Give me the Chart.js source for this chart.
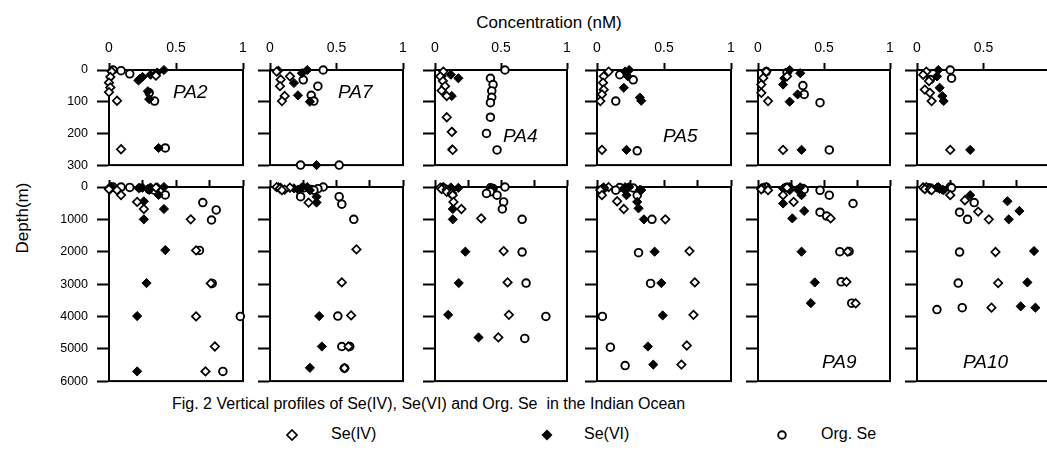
<!DOCTYPE html>
<html>
<head>
<meta charset="utf-8">
<script src="https://cdn.jsdelivr.net/npm/chart.js@4.4.0/dist/chart.umd.min.js"></script>
<style>
  html, body { margin:0; padding:0; background:#fff; }
  body { width:1047px; height:450px; position:relative; overflow:hidden; font-family:"Liberation Sans", Arial, sans-serif; color:#000; }
  canvas { position:absolute; }
  .txt { position:absolute; white-space:nowrap; line-height:1; }
  .pa { font-style:italic; font-size:19px; }
</style>
</head>
<body>
<div class="txt" id="title" style="font-size:17px; left:549px; top:14px; transform:translateX(-50%);">Concentration (nM)</div>
<div class="txt" id="ylab" style="font-size:17px; left:22px; top:218px; transform:translate(-50%,-50%) rotate(-90deg);">Depth(m)</div>
<div class="txt" id="caption" style="font-size:16px; left:172px; top:396px;">Fig. 2 Vertical profiles of Se(IV), Se(VI) and Org. Se&nbsp; in the Indian Ocean</div>
<div id="legend"></div>
<script>
// ---------------- DATA: [concentration nM, depth m] ----------------
const stations = ['PA2', 'PA7', 'PA4', 'PA5', 'PA9', 'PA10'];
const seriesNames = ['Se(IV)', 'Se(VI)', 'Org. Se'];
const concTicksTop = [0, 0.5, 1];
const concTicksBottom = [0, 0.25, 0.5, 0.75, 1];
const depthTicksTop = [0, 100, 200, 300];
const depthTicksBottom = [0, 1000, 2000, 3000, 4000, 5000, 6000];

const PA2_SeIV = [[0.02,5],[0.01,22],[0.0,40],[0.01,55],[0.0,70],[0.06,97],[0.35,18],[0.09,250],[0.21,460],[0.26,680],[0.61,1000],[0.65,1960],[0.76,2980],[0.65,4000],[0.79,4930],[0.72,5700]];
const PA2_SeVI = [[0.41,0],[0.36,8],[0.31,15],[0.25,22],[0.23,28],[0.22,33],[0.29,67],[0.30,92],[0.37,246],[0.26,440],[0.41,680],[0.26,1000],[0.42,1950],[0.28,2970],[0.21,3990],[0.21,5700]];
const PA2_Org  = [[0.03,0],[0.09,2],[0.155,12],[0.30,72],[0.34,98],[0.42,246],[0.70,480],[0.80,710],[0.765,1020],[0.675,1960],[0.77,2980],[0.98,4000],[0.85,5700]];

const PA7_SeIV = [[0.05,5],[0.15,20],[0.08,30],[0.075,51],[0.11,82],[0.09,98],[0.29,480],[0.65,1930],[0.54,2950],[0.61,3970],[0.59,4930],[0.56,5600]];
const PA7_SeVI = [[0.063,2],[0.28,0],[0.24,10],[0.18,41],[0.21,80],[0.30,100],[0.35,300],[0.35,480],[0.37,3990],[0.39,4930],[0.30,5590]];
const PA7_Org  = [[0.40,0],[0.25,31],[0.36,51],[0.31,80],[0.33,98],[0.23,300],[0.52,300],[0.54,530],[0.63,1000],[0.51,3990],[0.54,4930],[0.60,4930],[0.56,5600]];

const PA4_SeIV = [[0.063,5],[0.04,20],[0.06,35],[0.076,51],[0.05,65],[0.089,82],[0.089,149],[0.127,195],[0.134,252],[0.14,460],[0.20,680],[0.35,970],[0.52,1980],[0.55,2950],[0.56,3950],[0.48,4650]];
const PA4_SeVI = [[0.05,20],[0.12,15],[0.177,26],[0.127,82],[0.13,195],[0.13,250],[0.135,680],[0.135,1000],[0.23,2000],[0.18,2970],[0.10,3950],[0.33,4650]];
const PA4_Org  = [[0.53,0],[0.42,26],[0.44,46],[0.43,66],[0.43,86],[0.42,103],[0.42,149],[0.39,200],[0.47,252],[0.52,460],[0.51,680],[0.66,1000],[0.66,2010],[0.69,2970],[0.84,4000],[0.68,4680]];

const PA5_SeIV = [[0.087,5],[0.05,20],[0.045,40],[0.05,62],[0.037,77],[0.025,98],[0.037,252],[0.15,440],[0.20,680],[0.51,1000],[0.69,1980],[0.73,2950],[0.72,3950],[0.67,4900],[0.63,5490]];
const PA5_SeVI = [[0.24,0],[0.21,5],[0.23,20],[0.20,56],[0.32,87],[0.33,97],[0.22,252],[0.30,460],[0.31,660],[0.35,1000],[0.43,2000],[0.48,2970],[0.49,3970],[0.38,4930],[0.42,5490]];
const PA5_Org  = [[0.17,15],[0.27,31],[0.14,98],[0.30,255],[0.41,1000],[0.31,2030],[0.40,2980],[0.04,4000],[0.10,4950],[0.21,5520]];

const PA9_SeIV = [[0.063,5],[0.04,25],[0.025,46],[0.025,72],[0.076,98],[0.22,20],[0.19,252],[0.27,460],[0.55,970],[0.68,2000],[0.67,2930],[0.74,3600]];
const PA9_SeVI = [[0.24,0],[0.32,10],[0.20,26],[0.19,46],[0.30,77],[0.24,100],[0.33,252],[0.19,510],[0.35,740],[0.26,970],[0.33,2000],[0.43,2950],[0.40,3590]];
const PA9_Org  = [[0.063,5],[0.22,8],[0.34,49],[0.35,77],[0.47,103],[0.54,252],[0.72,510],[0.47,780],[0.52,900],[0.62,2000],[0.69,1990],[0.63,2930],[0.71,3590]];

const PA10_SeIV = [[0.07,5],[0.046,15],[0.09,35],[0.059,62],[0.097,72],[0.11,98],[0.25,252],[0.36,410],[0.46,760],[0.54,1000],[0.59,2010],[0.61,2970],[0.56,3730]];
const PA10_SeVI = [[0.16,0],[0.15,20],[0.17,56],[0.19,82],[0.20,98],[0.40,252],[0.68,440],[0.77,740],[0.69,1000],[0.88,1980],[0.83,2950],[0.78,3690],[0.89,3730]];
const PA10_Org  = [[0.25,0],[0.26,26],[0.10,30],[0.43,480],[0.32,780],[0.38,1000],[0.32,2010],[0.31,2970],[0.15,3790],[0.34,3730]];

const stationData = {
  PA2:  [PA2_SeIV, PA2_SeVI, PA2_Org],
  PA7:  [PA7_SeIV, PA7_SeVI, PA7_Org],
  PA4:  [PA4_SeIV, PA4_SeVI, PA4_Org],
  PA5:  [PA5_SeIV, PA5_SeVI, PA5_Org],
  PA9:  [PA9_SeIV, PA9_SeVI, PA9_Org],
  PA10: [PA10_SeIV, PA10_SeVI, PA10_Org]
};

// ---------------- LAYOUT / STYLE ----------------
const colLeft  = [109, 270, 435, 597, 758, 917];
const colWidth = [134, 133, 132, 134, 132, 133];
const rowTop   = [70, 187];
const rowHeight= [97, 196];
const labelPos = { // station label: [row, left, top]
  PA2: [0, 173, 82], PA7: [0, 338, 82], PA4: [0, 503, 126], PA5: [0, 663, 126], PA9: [1, 822, 352], PA10: [1, 963, 352]
};

const pointStyles = [
  { pointStyle:'rectRot', pointRadius:4.2, backgroundColor:'#fff', borderColor:'#000', borderWidth:1.7 },
  { pointStyle:'rectRot', pointRadius:4.6, backgroundColor:'#000', borderColor:'#000', borderWidth:1 },
  { pointStyle:'circle',  pointRadius:3.8, backgroundColor:'#fff', borderColor:'#000', borderWidth:1.9 }
];

const framePlugin = {
  id: 'frame',
  beforeDatasetsDraw(chart) {
    const a = chart.chartArea, ctx = chart.ctx;
    ctx.save();
    ctx.strokeStyle = '#000';
    ctx.lineWidth = 2;
    ctx.strokeRect(a.left, a.top, a.right - a.left, a.bottom - a.top);
    ctx.restore();
  }
};

function makePanel(col, row) {
  const st = stations[col];
  const L = col === 0 ? 70 : 14;
  const T = row === 0 ? 40 : 10;
  const R = 8, B = 4;
  const w = colWidth[col], h = rowHeight[row];
  const cv = document.createElement('canvas');
  cv.width = L + w + R; cv.height = T + h + B;
  cv.style.left = (colLeft[col] - L) + 'px';
  cv.style.top = (rowTop[row] - T) + 'px';
  cv.style.width = cv.width + 'px'; cv.style.height = cv.height + 'px';
  document.body.appendChild(cv);

  const maxDepth = row === 0 ? 300 : 6000;
  const xTicks = row === 0 ? concTicksTop : concTicksBottom;
  const yTicks = row === 0 ? depthTicksTop : depthTicksBottom;

  const datasets = stationData[st].map((arr, i) => Object.assign({
    label: seriesNames[i],
    data: arr.filter(p => p[1] <= maxDepth).map(p => ({ x: p[0], y: p[1] })),
    showLine: false,
    clip: false
  }, pointStyles[i]));

  new Chart(cv, {
    type: 'scatter',
    data: { datasets },
    options: {
      responsive: false,
      animation: false,
      events: [],
      layout: { padding: { left: 0, top: 0, right: R, bottom: B } },
      plugins: { legend: { display: false }, tooltip: { enabled: false } },
      scales: {
        x: {
          type: 'linear', position: 'top', min: 0, max: 1,
          afterBuildTicks: s => { s.ticks = xTicks.map(v => ({ value: v })); },
          afterFit: s => { s.height = T; s.paddingLeft = 0; s.paddingRight = 0; },
          ticks: { display: row === 0, color: '#000', padding: 6, maxRotation: 0, autoSkip: false,
                   font: { family: '"Liberation Sans", Arial, sans-serif', size: 14 },
                   callback: v => String(v) },
          grid: { drawOnChartArea: false, drawTicks: true, tickLength: 7, tickWidth: 2, tickColor: '#000' },
          border: { display: true, color: '#000', width: 2 }
        },
        y: {
          type: 'linear', position: 'left', reverse: true, min: 0, max: maxDepth,
          afterBuildTicks: s => { s.ticks = yTicks.map(v => ({ value: v })); },
          afterFit: s => { s.width = L; s.paddingTop = 0; s.paddingBottom = 0; },
          ticks: { display: col === 0, color: '#000', padding: 9, autoSkip: false,
                   font: { family: '"Liberation Sans", Arial, sans-serif', size: 12.5 },
                   callback: v => String(v) },
          grid: { drawOnChartArea: false, drawTicks: true, tickLength: 12, tickWidth: 2, tickColor: '#000' },
          border: { display: true, color: '#000', width: 2 }
        }
      }
    },
    plugins: [framePlugin]
  });
}

for (let row = 0; row < 2; row++) for (let col = 0; col < 6; col++) makePanel(col, row);

// station labels
stations.forEach(st => {
  const p = labelPos[st];
  const d = document.createElement('div');
  d.className = 'txt pa';
  d.textContent = st;
  d.style.left = p[1] + 'px'; d.style.top = p[2] + 'px';
  document.body.appendChild(d);
});

// legend
const legendItems = [
  { x: 292, textX: 331, svg: '<polygon points="6,1 11,6 6,11 1,6" fill="#fff" stroke="#000" stroke-width="1.7"/>' },
  { x: 547, textX: 584, svg: '<polygon points="6,0.5 11.5,6 6,11.5 0.5,6" fill="#000"/>' },
  { x: 782, textX: 821, svg: '<circle cx="6" cy="6" r="3.8" fill="#fff" stroke="#000" stroke-width="1.9"/>' }
];
const lg = document.getElementById('legend');
legendItems.forEach((it, i) => {
  const s = document.createElement('div');
  s.className = 'txt';
  s.style.left = (it.x - 6) + 'px'; s.style.top = '428px';
  s.innerHTML = '<svg width="12" height="12">' + it.svg + '</svg>';
  lg.appendChild(s);
  const t = document.createElement('div');
  t.className = 'txt';
  t.style.fontSize = '16px';
  t.style.left = it.textX + 'px'; t.style.top = '426px';
  t.textContent = seriesNames[i];
  lg.appendChild(t);
});
</script>
</body>
</html>
